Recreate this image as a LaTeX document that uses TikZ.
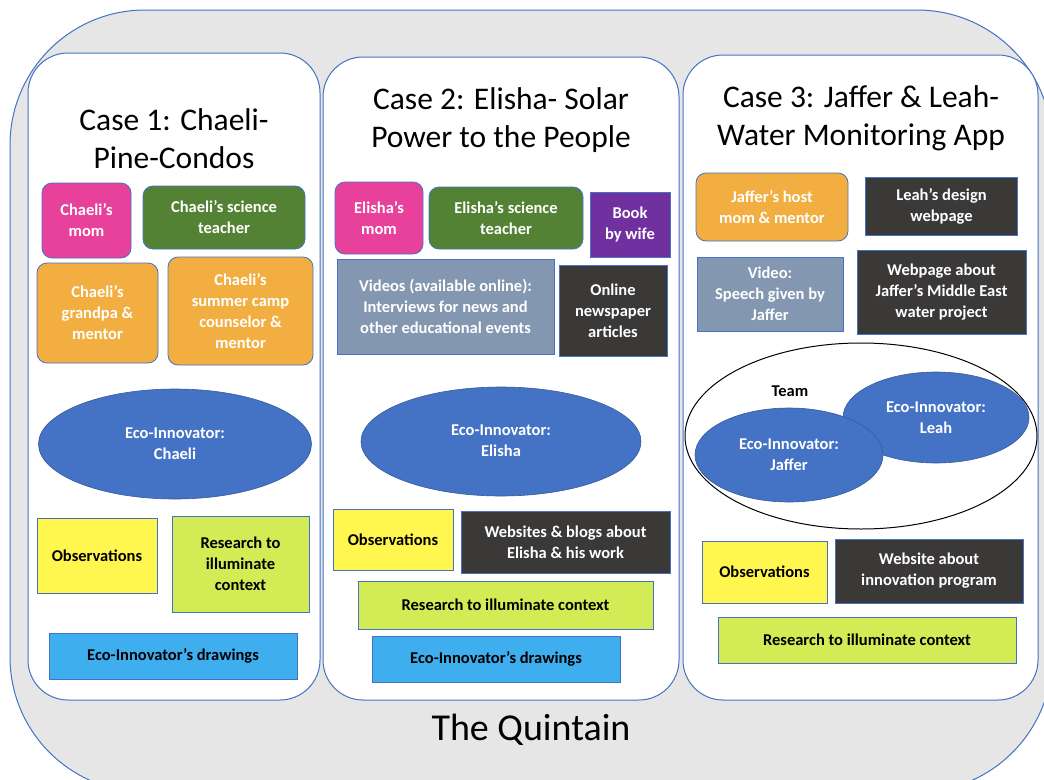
\documentclass[tikz,border=0pt]{standalone}
\usepackage{fontspec}
\setmainfont{Carlito}
\usepackage{xcolor}
\usepackage{tikz}
\usetikzlibrary{
    positioning,
    shapes.geometric
}

\definecolor{edgeblue}{RGB}{68,114,196}
\definecolor{quintgray}{RGB}{230,230,230}
\definecolor{mompink}{RGB}{232,65,155}
\definecolor{teachgreen}{RGB}{84,130,53}
\definecolor{mentororange}{RGB}{242,174,64}
\definecolor{bookpurple}{RGB}{112,48,160}
\definecolor{videogray}{RGB}{132,151,176}
\definecolor{webdark}{RGB}{59,56,56}
\definecolor{ecoblue}{RGB}{68,114,196}
\definecolor{obsyellow}{RGB}{255,246,80}
\definecolor{reslime}{RGB}{211,235,85}
\definecolor{drawblue}{RGB}{63,174,239}

\tikzset{
    srcbox/.style={draw=edgeblue, line width=0.8pt, align=center, inner sep=1pt,
        font=\bfseries\fontsize{16.5}{21}\selectfont},
    person/.style={srcbox, rounded corners=10pt, text=white},
    whitebox/.style={srcbox, text=white},
    blackbox/.style={srcbox, text=black},
    innovator/.style={ellipse, fill=ecoblue, draw=ecoblue!80!black, line width=0.6pt,
        inner sep=0pt, align=center, text=white, font=\bfseries\fontsize{16.5}{21}\selectfont},
    casepanel/.style={draw=edgeblue, line width=1pt, fill=white, rounded corners=40pt},
    casetitle/.style={align=center, font=\fontsize{31.5}{38}\selectfont}
}

\begin{document}
\begin{tikzpicture}[x=1pt, y=-1pt]
            \useasboundingbox (0,0) rectangle (1044,779);
            \clip (0,0) rectangle (1044,779);
            % 外枠
            \draw[edgeblue, line width=1pt, fill=quintgray, rounded corners=135pt]
                (10,10) rectangle (1052,792);
            \node[font=\fontsize{38}{44}\selectfont] (quintain) at (531,730) {The Quintain};

            % Case 1
            \draw[casepanel] (28,53) rectangle (320,700);
            \node[casetitle] (c1title) at (174,139) {Case 1: Chaeli-\\Pine-Condos};
            \node[person, fill=mompink, minimum width=89pt, minimum height=75pt] (c1mom) at (86.5,220.5) {Chaeli’s\\mom};
            \node[person, fill=teachgreen, minimum width=162pt, minimum height=63pt] (c1sci) at (224,217.5) {Chaeli’s science\\teacher};
            \node[person, fill=mentororange, minimum width=121pt, minimum height=100pt] (c1grand) at (97.5,313) {Chaeli’s\\grandpa \&\\mentor};
            \node[person, fill=mentororange, minimum width=145pt, minimum height=108pt] (c1camp) at (240.5,311) {Chaeli’s\\summer camp\\counselor \&\\mentor};
            \node[innovator, minimum width=273pt, minimum height=110pt] (c1eco) at (175,444) {Eco-Innovator:\\Chaeli};
            \node[blackbox, fill=obsyellow, minimum width=120pt, minimum height=75pt] (c1obs) at (97,555.5) {Observations};
            \node[blackbox, fill=reslime, minimum width=137pt, minimum height=96pt] (c1res) at (240.5,564) {Research to\\illuminate\\context};
            \node[blackbox, fill=drawblue, minimum width=248pt, minimum height=46pt] (c1draw) at (173,656) {Eco-Innovator’s drawings};

            % Case 2
            \draw[casepanel] (323,57) rectangle (679,700);
            \node[casetitle] (c2title) at (501,120) {Case 2: Elisha- Solar\\Power to the People};
            \node[person, fill=mompink, minimum width=88pt, minimum height=72pt] (c2mom) at (379,218) {Elisha’s\\mom};
            \node[person, fill=teachgreen, minimum width=154pt, minimum height=62pt] (c2sci) at (506,218) {Elisha’s science\\teacher};
            \node[whitebox, fill=bookpurple, minimum width=80pt, minimum height=65pt] (c2book) at (630,224.5) {Book\\by wife};
            \node[whitebox, fill=videogray, minimum width=217pt, minimum height=95pt] (c2vid) at (445.5,306.5) {Videos (available online):\\Interviews for news and\\other educational events};
            \node[whitebox, fill=webdark, minimum width=108pt, minimum height=91pt] (c2news) at (613,310.5) {Online\\newspaper\\articles};
            \node[innovator, minimum width=280pt, minimum height=109pt] (c2eco) at (501,441.5)
                {\raisebox{9pt}{\begin{tabular}{@{}c@{}}Eco-Innovator:\\Elisha\end{tabular}}};
            \node[blackbox, fill=obsyellow, minimum width=120pt, minimum height=61pt] (c2obs) at (393,540) {Observations};
            \node[whitebox, fill=webdark, minimum width=209pt, minimum height=62pt] (c2web) at (565.5,542.5) {Websites \& blogs about\\Elisha \& his work};
            \node[blackbox, fill=reslime, minimum width=295pt, minimum height=48pt] (c2res) at (505.5,605) {Research to illuminate context};
            \node[blackbox, fill=drawblue, minimum width=248pt, minimum height=46pt] (c2draw) at (496,659) {Eco-Innovator’s drawings};

            % Case 3
            \draw[casepanel] (683,55) rectangle (1038,700);
            \node[casetitle] (c3title) at (861,118) {Case 3: Jaffer \& Leah-\\Water Monitoring App};
            \node[person, fill=mentororange, minimum width=152pt, minimum height=68pt] (c3host) at (772,207) {Jaffer’s host\\mom \& mentor};
            \node[whitebox, fill=webdark, minimum width=152pt, minimum height=58pt] (c3leah) at (941.5,206) {Leah’s design\\webpage};
            \node[whitebox, fill=videogray, minimum width=146pt, minimum height=74pt] (c3vid) at (770,294) {Video:\\Speech given by\\Jaffer};
            \node[whitebox, fill=webdark, minimum width=169pt, minimum height=84pt] (c3web) at (941.5,292) {Webpage about\\Jaffer’s Middle East\\water project};
            \node[ellipse, draw=black, fill=white, line width=1pt, minimum width=352pt, minimum height=186pt] (c3team) at (861,436) {};
            \node[font=\bfseries\fontsize{16.5}{20}\selectfont] (c3teamlbl) at (790,391) {Team};
            \node[innovator, minimum width=186pt, minimum height=91pt] (c3leaheco) at (936,417.5) {Eco-Innovator:\\Leah};
            \node[innovator, minimum width=188pt, minimum height=94pt] (c3jaffer) at (789,455) {Eco-Innovator:\\Jaffer};
            \node[blackbox, fill=obsyellow, minimum width=125pt, minimum height=62pt] (c3obs) at (764.5,572) {Observations};
            \node[whitebox, fill=webdark, minimum width=188pt, minimum height=64pt] (c3site) at (929,571) {Website about\\innovation program};
            \node[blackbox, fill=reslime, minimum width=298pt, minimum height=46pt] (c3res) at (867,640) {Research to illuminate context};
        \end{tikzpicture}
\end{document}
